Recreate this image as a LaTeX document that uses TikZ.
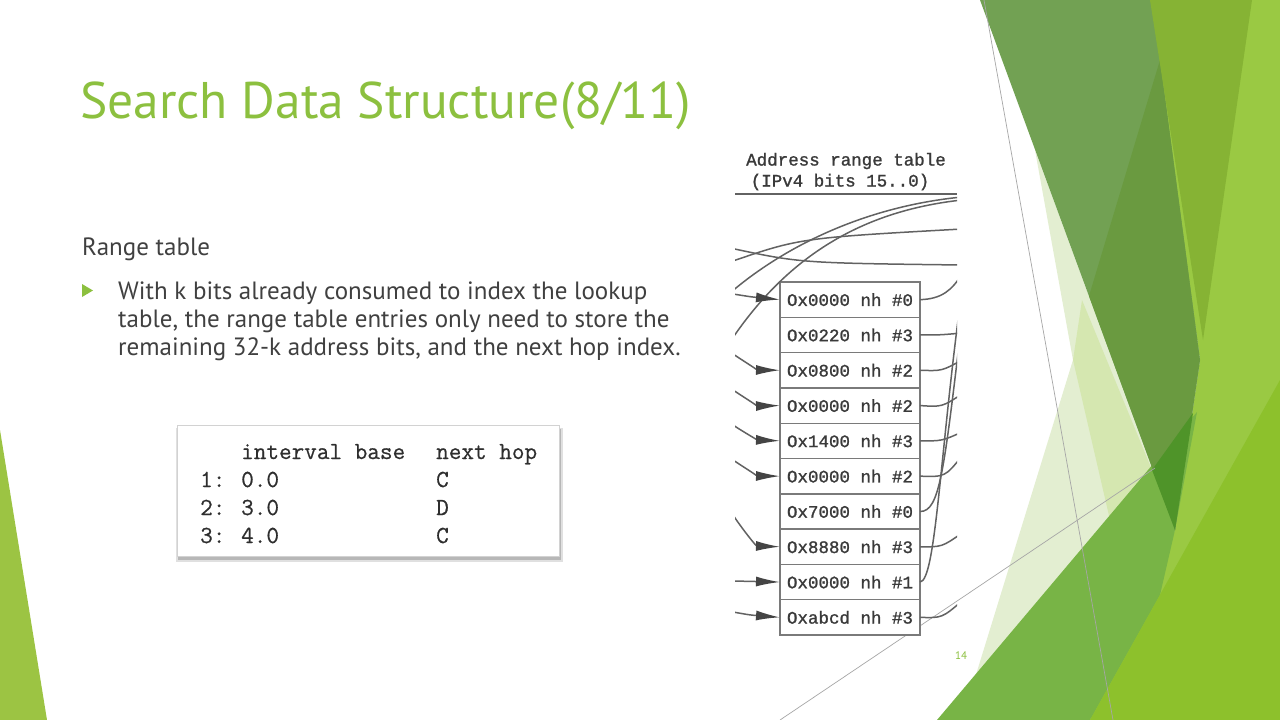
\documentclass[tikz,border=0pt]{standalone}
\usepackage{fontspec}
\setmainfont{PT Sans}
\newfontfamily\figfont[FakeBold=1.2]{Liberation Mono}
\newfontfamily\tabfont[FakeBold=0.6]{Latin Modern Mono}
\usetikzlibrary{arrows.meta,positioning}
\definecolor{titlegreen}{HTML}{8CC03F}
\definecolor{ink}{HTML}{404040}
\definecolor{figink}{HTML}{3A3A3A}
\definecolor{boxgray}{HTML}{7A7A7A}
\definecolor{linegray}{HTML}{626262}
\definecolor{tipgray}{HTML}{444444}
\definecolor{tabink}{HTML}{2E2E2E}
\definecolor{pale}{HTML}{E3EED1}
\definecolor{midpale}{HTML}{D5E7B0}
\definecolor{facetmid}{HTML}{72A153}
\definecolor{facetdark}{HTML}{6A9A40}
\definecolor{facetdeep}{HTML}{4F9429}
\definecolor{olive}{HTML}{86B334}
\definecolor{limelight}{HTML}{9AC943}
\definecolor{band}{HTML}{78B446}
\definecolor{lime}{HTML}{8DC12C}
\definecolor{leftlime}{HTML}{9CC443}
\tikzset{
  slidetext/.style={anchor=base west, inner sep=0pt, text=ink, font=\fontsize{25}{30}\selectfont},
  tabtext/.style={anchor=base west, inner sep=0pt, text=tabink, font=\tabfont\fontsize{24.5}{28}\selectfont},
  figtext/.style={inner sep=0pt, text=figink, font=\figfont\fontsize{17.5}{20}\selectfont},
  entry/.style={draw=boxgray, line width=1.4pt, fill=white, minimum width=140pt, minimum height=35.3pt, inner sep=0pt, outer sep=0pt, figtext},
  link/.style={draw=linegray, line width=1.5pt},
  feed/.style={link, -{Latex[length=24pt,width=10pt,color=tipgray]}},
  thin/.style={draw=gray!70, line width=0.7pt}
}
\begin{document}
\begin{tikzpicture}[x=1pt,y=-1pt]
\useasboundingbox (0,0) rectangle (1280,720);
\fill[white] (0,0) rectangle (1280,720);
% facets on the right
\fill[pale] (1035,150) -- (1175,530) -- (1090,720) -- (962,720) -- (1073,360) -- cycle;
\fill[midpale] (1082,300) -- (1152,470) -- (1110,520) -- (1073,360) -- cycle;
\fill[limelight] (1150,0) -- (1280,0) -- (1280,720) -- (1090,720) -- (1175,530) -- (1200,360) -- cycle;
\fill[band] (937,720) -- (1197,412) -- (1175,530) -- (1160,595) -- (1090,720) -- cycle;
\fill[facetmid] (980,0) -- (1152,0) -- (1200,360) -- (1175,530) -- cycle;
\fill[facetdark] (1160,60) -- (1089,296) -- (1175,530) -- (1200,360) -- cycle;
\fill[facetdeep] (1152,470) -- (1193,413) -- (1175,530) -- cycle;
\fill[olive] (1150,0) -- (1252,0) -- (1203,340) -- cycle;
\fill[lime] (1090,720) -- (1280,380) -- (1280,720) -- cycle;
\draw[thin] (984,0) -- (1113,720);
\draw[thin] (780,720) -- (1155,468);
\fill[leftlime] (0,430) -- (47,720) -- (0,720) -- cycle;

% slide text
\node[anchor=base west, inner sep=0pt, text=titlegreen, font=\fontsize{51.5}{58}\selectfont] (title) at (80,118) {Search Data Structure(8/11)};
\node[slidetext] (sub) at (82,255) {Range table};
\fill[titlegreen] (82,284) -- (93,290.5) -- (82,297) -- cycle;
\node[slidetext] (line1) at (118,299) {With k bits already consumed to index the lookup};
\node[slidetext] (line2) at (118,327) {table, the range table entries only need to store the};
\node[slidetext] (line3) at (118,355) {remaining 32-k address bits, and the next hop index.};
\node[anchor=base, inner sep=0pt, text=titlegreen, font=\fontsize{11}{12}\selectfont] (page) at (961,659) {14};

% interval table picture
\fill[black, opacity=0.18] (178,429) rectangle (561,560);
\fill[black, opacity=0.12] (176,428) rectangle (563,562);
\draw[draw=gray!35, fill=white] (177,425) rectangle (559,556);
\node[tabtext] (head1) at (241,459) {interval base};
\node[tabtext] (head2) at (436,459) {next hop};
\node[tabtext] (num1) at (200,487) {1:};
\node[tabtext] (base1) at (241,487) {0.0};
\node[tabtext] (hop1) at (436,487) {C};
\node[tabtext] (num2) at (200,515) {2:};
\node[tabtext] (base2) at (241,515) {3.0};
\node[tabtext] (hop2) at (436,515) {D};
\node[tabtext] (num3) at (200,543) {3:};
\node[tabtext] (base3) at (241,543) {4.0};
\node[tabtext] (hop3) at (436,543) {C};

% address range table
\node[figtext] (hdr1) at (846,161) {Address range table};
\node[figtext] (hdr2) at (840,182) {(IPv4 bits 15..0)};
\coordinate (ruleL) at (735,194);
\coordinate (ruleR) at (957,194);
\draw[draw=linegray, line width=1.6pt] (ruleL) -- (ruleR);

\node[entry] (ent1) at (850,299.65) {Ox0000 nh \#0};
\node[entry, below=0pt of ent1] (ent2) {Ox0220 nh \#3};
\node[entry, below=0pt of ent2] (ent3) {Ox0800 nh \#2};
\node[entry, below=0pt of ent3] (ent4) {Ox0000 nh \#2};
\node[entry, below=0pt of ent4] (ent5) {Ox1400 nh \#3};
\node[entry, below=0pt of ent5] (ent6) {Ox0000 nh \#2};
\node[entry, below=0pt of ent6] (ent7) {Ox7000 nh \#0};
\node[entry, below=0pt of ent7] (ent8) {Ox8880 nh \#3};
\node[entry, below=0pt of ent8] (ent9) {Ox0000 nh \#1};
\node[entry, below=0pt of ent9] (ent10) {Oxabcd nh \#3};

\begin{scope}
\clip (735,196) rectangle (957,640);
% lines crossing above the entries
\coordinate (crossA) at (728,345);
\coordinate (crossB) at (730,293);
\coordinate (crossC) at (730,262);
\coordinate (crossD) at (730,248);
\coordinate (farA) at (962,200);
\coordinate (farB) at (962,197);
\coordinate (farC) at (962,229);
\coordinate (farD) at (962,265);
\draw[link] (crossA) .. controls (790,250) and (870,210) .. (farA);
\draw[link] (crossB) .. controls (780,250) and (860,207) .. (farB);
\draw[link] (crossC) .. controls (800,238) .. (farC);
\draw[link] (crossD) .. controls (800,263) .. (farD);
% incoming pointers
\coordinate (in1) at (733,294);
\coordinate (in3) at (733,354);
\coordinate (in4) at (733,390);
\coordinate (in5) at (733,425);
\coordinate (in6) at (733,460);
\coordinate (in8) at (733,515);
\coordinate (in9) at (733,581);
\coordinate (in10) at (733,612);
\draw[feed] (in1) .. controls (752,297) .. (ent1.west);
\draw[feed] (in3) .. controls (745,362) and (758,370) .. (ent3.west);
\draw[feed] (in4) .. controls (745,398) and (758,406) .. (ent4.west);
\draw[feed] (in5) .. controls (745,433) and (758,440) .. (ent5.west);
\draw[feed] (in6) .. controls (745,468) and (758,476) .. (ent6.west);
\draw[feed] (in8) .. controls (743,530) and (756,546) .. (ent8.west);
\draw[feed] (in9) -- (ent9.west);
\draw[feed] (in10) .. controls (750,615) .. (ent10.west);
% outgoing pointers
\coordinate (out1) at (962,274);
\coordinate (out2) at (962,333);
\coordinate (out3) at (962,360);
\coordinate (out4) at (962,394);
\coordinate (out5) at (962,432);
\coordinate (out6) at (962,456);
\coordinate (out7) at (962,320);
\coordinate (out8) at (962,533);
\coordinate (out9) at (962,290);
\coordinate (out10) at (962,601);
\draw[link] (ent1.east) .. controls (942,299) and (952,290) .. (out1);
\draw[link] (ent2.east) .. controls (940,335) .. (out2);
\draw[link] (ent3.east) .. controls (942,371) .. (out3);
\draw[link] (ent4.east) .. controls (942,407) .. (out4);
\draw[link] (ent5.east) .. controls (942,441) .. (out5);
\draw[link] (ent6.east) .. controls (945,477) .. (out6);
\draw[link] (ent7.east) .. controls (940,512) and (944,470) .. (out7);
\draw[link] (ent8.east) .. controls (942,547) .. (out8);
\draw[link] (ent9.east) .. controls (936,581) and (940,450) .. (out9);
\draw[link] (ent10.east) .. controls (942,618) .. (out10);
\end{scope}
\end{tikzpicture}
\end{document}
